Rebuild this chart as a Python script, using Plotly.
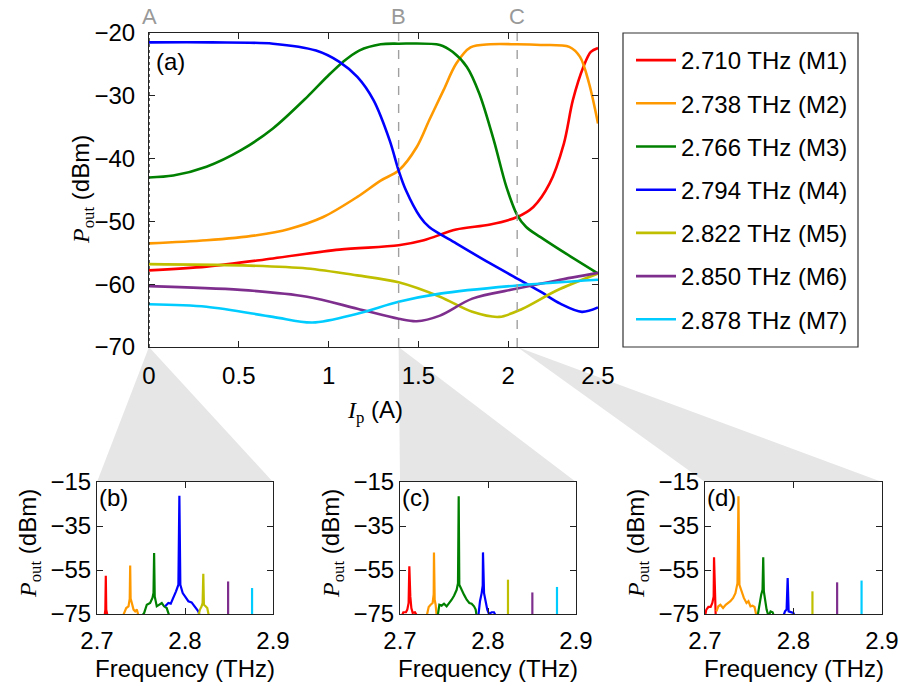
import plotly.graph_objects as go

W, H = 899, 686

# ---------------- main panel (a) data ----------------
MODE_NAMES = ["2.710 THz (M1)", "2.738 THz (M2)", "2.766 THz (M3)", "2.794 THz (M4)",
              "2.822 THz (M5)", "2.850 THz (M6)", "2.878 THz (M7)"]
COLORS = ["#ff0000", "#ff9900", "#008000", "#0000ff", "#bfbf00", "#7e2f8e", "#00ccff"]

I_M1 = [0, 0.32, 0.69, 1.06, 1.39, 1.53, 1.71, 1.90, 2.05, 2.14, 2.23, 2.31, 2.36, 2.42, 2.46, 2.5]
P_M1 = [-57.8, -57.2, -55.9, -54.5, -53.8, -53.0, -51.3, -50.5, -49.3, -47.7, -44.0, -37.6, -30.7, -25.3, -23.0, -22.4]
I_M2 = [0, 0.32, 0.6, 0.78, 0.97, 1.16, 1.29, 1.39, 1.49, 1.56, 1.64, 1.71, 1.79, 1.90, 2.05, 2.18, 2.34, 2.40, 2.45, 2.5]
P_M2 = [-53.5, -53.0, -52.2, -51.2, -49.3, -46.1, -43.5, -41.9, -38.2, -33.9, -29.1, -24.9, -22.3, -21.8, -21.8, -21.9, -22.2, -23.8, -28.0, -34.4]
I_M3 = [0, 0.135, 0.32, 0.51, 0.69, 0.88, 0.99, 1.08, 1.17, 1.29, 1.39, 1.62, 1.69, 1.77, 1.84, 1.92, 1.99, 2.05, 2.10, 2.18, 2.32, 2.5]
P_M3 = [-43.0, -42.7, -41.3, -38.7, -35.2, -30.2, -27.0, -24.6, -22.8, -21.8, -21.7, -21.9, -23.0, -25.4, -29.7, -37.1, -44.5, -49.0, -50.9, -52.5, -55.1, -58.3]
I_M4 = [0, 0.35, 0.69, 0.93, 1.06, 1.16, 1.25, 1.34, 1.39, 1.43, 1.51, 1.56, 1.71, 1.90, 2.05, 2.18, 2.29, 2.41, 2.5]
P_M4 = [-21.5, -21.5, -21.7, -22.8, -24.6, -27.0, -30.7, -37.1, -41.9, -45.0, -49.3, -50.9, -53.5, -56.7, -59.1, -61.2, -63.1, -64.4, -63.7]
I_M5 = [0, 0.51, 0.88, 1.16, 1.39, 1.62, 1.80, 1.95, 2.08, 2.27, 2.5]
P_M5 = [-56.8, -57.0, -57.5, -58.6, -59.7, -62.0, -64.4, -65.2, -63.9, -61.0, -58.3]
I_M6 = [0, 0.51, 0.88, 1.16, 1.39, 1.49, 1.62, 1.80, 2.05, 2.27, 2.5]
P_M6 = [-60.3, -60.9, -62.0, -63.9, -65.5, -65.9, -65.0, -62.3, -60.7, -59.4, -58.2]
I_M7 = [0, 0.32, 0.69, 0.91, 1.16, 1.39, 1.62, 2.05, 2.5]
P_M7 = [-63.2, -63.6, -65.2, -66.1, -64.7, -62.8, -61.5, -60.2, -59.3]

MAIN_I = [I_M1, I_M2, I_M3, I_M4, I_M5, I_M6, I_M7]
MAIN_P = [P_M1, P_M2, P_M3, P_M4, P_M5, P_M6, P_M7]

MARK_I = [0.0, 1.39, 2.05]
MARK_LABELS = ["A", "B", "C"]

MAIN_XTICKS = [0, 0.5, 1, 1.5, 2, 2.5]
MAIN_XTICKTEXT = ["0", "0.5", "1", "1.5", "2", "2.5"]
MAIN_YTICKS = [-70, -60, -50, -40, -30, -20]
MAIN_YTICKTEXT = ["\u221270", "\u221260", "\u221250", "\u221240", "\u221230", "\u221220"]

# ---------------- spectra (b) at A ----------------
SPEC_B_F = [
    [2.7075, 2.7085, 2.7095, 2.7100, 2.7105, 2.7115, 2.7130],
    [2.7294, 2.7332, 2.7358, 2.7372, 2.7377, 2.7382, 2.7396, 2.7415, 2.7434, 2.7453, 2.7472],
    [2.7509, 2.7536, 2.7566, 2.7604, 2.7630, 2.7642, 2.7649, 2.7656, 2.7679, 2.7709, 2.7736, 2.7762, 2.7792, 2.7823],
    [2.7774, 2.7811, 2.7838, 2.7868, 2.7898, 2.7925, 2.7936, 2.7947, 2.7974, 2.8000, 2.8038, 2.8075, 2.8113, 2.8151, 2.8170],
    [2.8151, 2.8170, 2.8189, 2.8200, 2.8208, 2.8215, 2.8234, 2.8253, 2.8272],
    [2.8490, 2.8490],
    [2.8762, 2.8762],
]
SPEC_B_P = [
    [-80, -75, -73, -57.6, -73, -75, -80],
    [-76, -72.3, -71.5, -68, -53.0, -68, -70.0, -73.0, -73.8, -73.0, -76],
    [-76, -74.5, -70.8, -70.0, -67.7, -65.5, -47.3, -67.0, -71.5, -70.8, -70.0, -71.5, -72.3, -76],
    [-71.5, -70.0, -70.3, -67.7, -64.7, -61.7, -21.2, -61.7, -65.5, -67.0, -69.2, -69.7, -71.5, -73.8, -76],
    [-76, -73.0, -71.5, -70.0, -56.7, -70.8, -71.5, -72.3, -76],
    [-80, -60.2],
    [-80, -63.2],
]

# ---------------- spectra (c) at B ----------------
SPEC_C_F = [
    [2.7019, 2.7038, 2.7068, 2.7083, 2.7098, 2.7106, 2.7117, 2.7129, 2.7144, 2.7170, 2.7197],
    [2.7303, 2.7326, 2.7348, 2.7371, 2.7383, 2.7386, 2.7394, 2.7405, 2.7417],
    [2.7428, 2.7447, 2.7473, 2.7500, 2.7530, 2.7561, 2.7587, 2.7614, 2.7644, 2.7659, 2.7667, 2.7674, 2.7697,
     2.7727, 2.7758, 2.7788, 2.7814, 2.7841, 2.7860, 2.7871],
    [2.7890, 2.7909, 2.7928, 2.7940, 2.7943, 2.7946, 2.7955, 2.7973, 2.7992, 2.8011, 2.8042, 2.8068, 2.8091],
    [2.8227, 2.8227],
    [2.8504, 2.8504],
    [2.8784, 2.8784],
]
SPEC_C_P = [
    [-76, -74.2, -74.2, -73.0, -70.0, -53.3, -67.0, -72.3, -74.5, -74.2, -76],
    [-76, -71.8, -70.8, -70.0, -66.0, -47.0, -68.5, -70.8, -76],
    [-76, -70.8, -71.2, -70.3, -71.5, -70.0, -68.5, -66.7, -64.0, -61.0, -21.5, -61.7, -64.0,
     -66.2, -68.5, -70.0, -70.3, -71.5, -73.0, -76],
    [-76, -69.2, -65.5, -62.0, -47.0, -62.0, -65.5, -69.2, -73.0, -75.0, -74.2, -74.2, -76],
    [-80, -59.4],
    [-80, -65.2],
    [-80, -62.7],
]

# ---------------- spectra (d) at C ----------------
SPEC_D_F = [
    [2.7000, 2.7015, 2.7038, 2.7064, 2.7083, 2.7098, 2.7102, 2.7110, 2.7121],
    [2.7129, 2.7151, 2.7174, 2.7204, 2.7234, 2.7261, 2.7287, 2.7318, 2.7344, 2.7367, 2.7378, 2.7389, 2.7412,
     2.7439, 2.7469, 2.7491, 2.7514, 2.7537, 2.7560, 2.7582],
    [2.7594, 2.7612, 2.7635, 2.7650, 2.7658, 2.7665, 2.7680, 2.7696, 2.7718, 2.7741, 2.7764, 2.7779],
    [2.7885, 2.7904, 2.7922, 2.7934, 2.7945, 2.7968, 2.7998, 2.8017],
    [2.8214, 2.8214],
    [2.8493, 2.8493],
    [2.8769, 2.8769],
]
SPEC_D_P = [
    [-76, -73.0, -71.8, -71.8, -70.0, -67.0, -49.2, -70.0, -76],
    [-73.8, -71.5, -70.8, -72.3, -70.8, -70.0, -69.2, -67.7, -65.5, -61.0, -21.5, -61.7, -64.7,
     -67.7, -70.0, -69.2, -71.5, -71.2, -71.8, -76],
    [-76, -70.8, -66.2, -64.0, -49.2, -64.7, -68.5, -73.0, -76, -73.8, -74.2, -76],
    [-76, -73.8, -73.0, -58.6, -73.8, -74.2, -74.5, -76],
    [-80, -64.7],
    [-80, -60.6],
    [-80, -59.8],
]

SPEC_PANELS = [(SPEC_B_F, SPEC_B_P, "(b)"), (SPEC_C_F, SPEC_C_P, "(c)"), (SPEC_D_F, SPEC_D_P, "(d)")]
SPEC_XTICKS = [2.7, 2.8, 2.9]
SPEC_XTICKTEXT = ["2.7", "2.8", "2.9"]
SPEC_YTICKS = [-75, -55, -35, -15]
SPEC_YTICKTEXT = ["\u221275", "\u221255", "\u221235", "\u221215"]

# ---------------- layout geometry (pixels) ----------------
MAIN_BOX = (149, 598, 33, 347)          # left, right, top, bottom
SUB_BOXES = [(97, 273, 482, 614), (400, 576, 482, 614), (705, 882, 482, 614)]
LEG_BOX = (623, 858, 33, 347)

SANS = "Liberation Sans"
SERIF = "Liberation Serif"
FS = 24


def px(x):
    return x / W


def py(y):
    return 1 - y / H


fig = go.Figure()

for k in range(7):
    fig.add_trace(go.Scatter(
        x=MAIN_I[k], y=MAIN_P[k], mode="lines", name=MODE_NAMES[k],
        line=dict(color=COLORS[k], width=2.6, shape="spline", smoothing=0.9),
        xaxis="x", yaxis="y", legendgroup=f"g{k}", showlegend=True,
    ))

for j, (FF, PP, lab) in enumerate(SPEC_PANELS):
    ax = str(j + 2)
    for k in range(7):
        fig.add_trace(go.Scatter(
            x=FF[k], y=PP[k], mode="lines",
            line=dict(color=COLORS[k], width=2.2),
            xaxis="x" + ax, yaxis="y" + ax, showlegend=False,
        ))

axis_common = dict(showline=True, linecolor="#222222", linewidth=1.2, mirror="ticks",
                   ticks="inside", ticklen=6, tickcolor="#222222", showgrid=False, zeroline=False,
                   automargin=False,
                   tickfont=dict(family=SANS, size=FS, color="black"))

l, r, t, b = MAIN_BOX
layout = dict(
    width=W, height=H, margin=dict(l=0, r=0, t=0, b=0, autoexpand=False),
    paper_bgcolor="white", plot_bgcolor="rgba(0,0,0,0)",
    font=dict(family=SANS, size=FS, color="black"),
    xaxis=dict(domain=[px(l), px(r)], range=[0, 2.5], tickvals=MAIN_XTICKS, ticktext=MAIN_XTICKTEXT,
               anchor="y", ticklabelstandoff=7, **axis_common),
    yaxis=dict(domain=[py(b), py(t)], range=[-70, -20], tickvals=MAIN_YTICKS, ticktext=MAIN_YTICKTEXT,
               anchor="x", ticklabelstandoff=8, **axis_common),
    legend=dict(x=px(LEG_BOX[0] + 8), y=py(38), xanchor="left", yanchor="top",
                bgcolor="rgba(0,0,0,0)", borderwidth=0, font=dict(family=SANS, size=24),
                tracegroupgap=9, itemwidth=40, traceorder="grouped"),
    showlegend=True,
)
for j, (sl, sr, st, sb) in enumerate(SUB_BOXES):
    ax = str(j + 2)
    layout["xaxis" + ax] = dict(domain=[px(sl), px(sr)], range=[2.7, 2.9], tickvals=SPEC_XTICKS,
                                ticktext=SPEC_XTICKTEXT, anchor="y" + ax, ticklabelstandoff=5, **axis_common)
    layout["yaxis" + ax] = dict(domain=[py(sb), py(st)], range=[-75, -15], tickvals=SPEC_YTICKS,
                                ticktext=SPEC_YTICKTEXT, anchor="x" + ax, ticklabelstandoff=0, **axis_common)
fig.update_layout(**layout)

shapes = []
# grey wedges linking markers to spectra panels
for j, mi in enumerate(MARK_I):
    ax_x = px(l) + (mi / 2.5) * (px(r) - px(l))
    ax_y = py(b)
    sl, sr, st, sb = SUB_BOXES[j]
    path = f"M {ax_x},{ax_y} L {px(sl)},{py(st)} L {px(sr)},{py(st)} Z"
    shapes.append(dict(type="path", path=path, xref="paper", yref="paper",
                       fillcolor="#e6e6e6", line=dict(width=0), layer="below"))
# marker lines
for j, mi in enumerate(MARK_I):
    shapes.append(dict(type="line", x0=mi, x1=mi, y0=-70, y1=-20, xref="x", yref="y",
                       line=dict(color="#222222" if j == 0 else "#a0a0a0", width=1.4,
                                 dash="dot" if j == 0 else "dash")))
# legend border
shapes.append(dict(type="rect", x0=px(LEG_BOX[0]), x1=px(LEG_BOX[1]), y0=py(LEG_BOX[3]), y1=py(LEG_BOX[2]),
                   xref="paper", yref="paper", line=dict(color="#333333", width=1.2)))
fig.update_layout(shapes=shapes)

ann = []
for j, mi in enumerate(MARK_I):
    ann.append(dict(x=mi, y=py(17), xref="x", yref="paper", text=MARK_LABELS[j], showarrow=False,
                    font=dict(family=SANS, size=22, color="#999999"), xanchor="center", yanchor="middle"))
ann.append(dict(x=px(154), y=py(61), xref="paper", yref="paper", text="(a)", showarrow=False,
                xanchor="left", yanchor="middle", font=dict(family=SANS, size=FS)))
ann.append(dict(x=px(375), y=py(412), xref="paper", yref="paper", showarrow=False,
                text=f"<span style='font-family:{SERIF}'><i>I</i><sub>p</sub></span> (A)",
                xanchor="center", yanchor="middle", font=dict(family=SANS, size=FS)))
ann.append(dict(x=px(82), y=py(190), xref="paper", yref="paper", showarrow=False, textangle=-90,
                text=f"<span style='font-family:{SERIF}'><i>P</i><sub>out</sub></span> (dBm)",
                xanchor="center", yanchor="middle", font=dict(family=SANS, size=FS)))
for j, (sl, sr, st, sb) in enumerate(SUB_BOXES):
    ann.append(dict(x=px(sl), y=py(st + 15), xref="paper", yref="paper", text=SPEC_PANELS[j][2],
                    showarrow=False, xanchor="left", yanchor="middle", font=dict(family=SANS, size=FS)))
    ann.append(dict(x=px((sl + sr) / 2), y=py(668), xref="paper", yref="paper", text="Frequency (THz)",
                    showarrow=False, xanchor="center", yanchor="middle", font=dict(family=SANS, size=FS)))
    ann.append(dict(x=px(sl - 68), y=py((st + sb) / 2 - 4), xref="paper", yref="paper", showarrow=False,
                    textangle=-90,
                    text=f"<span style='font-family:{SERIF}'><i>P</i><sub>out</sub></span> (dBm)",
                    xanchor="center", yanchor="middle", font=dict(family=SANS, size=FS)))
fig.update_layout(annotations=ann)

fig.write_html("out.html", config={"displayModeBar": False},
               post_script="document.body.style.margin='0';document.body.style.overflow='hidden';")
